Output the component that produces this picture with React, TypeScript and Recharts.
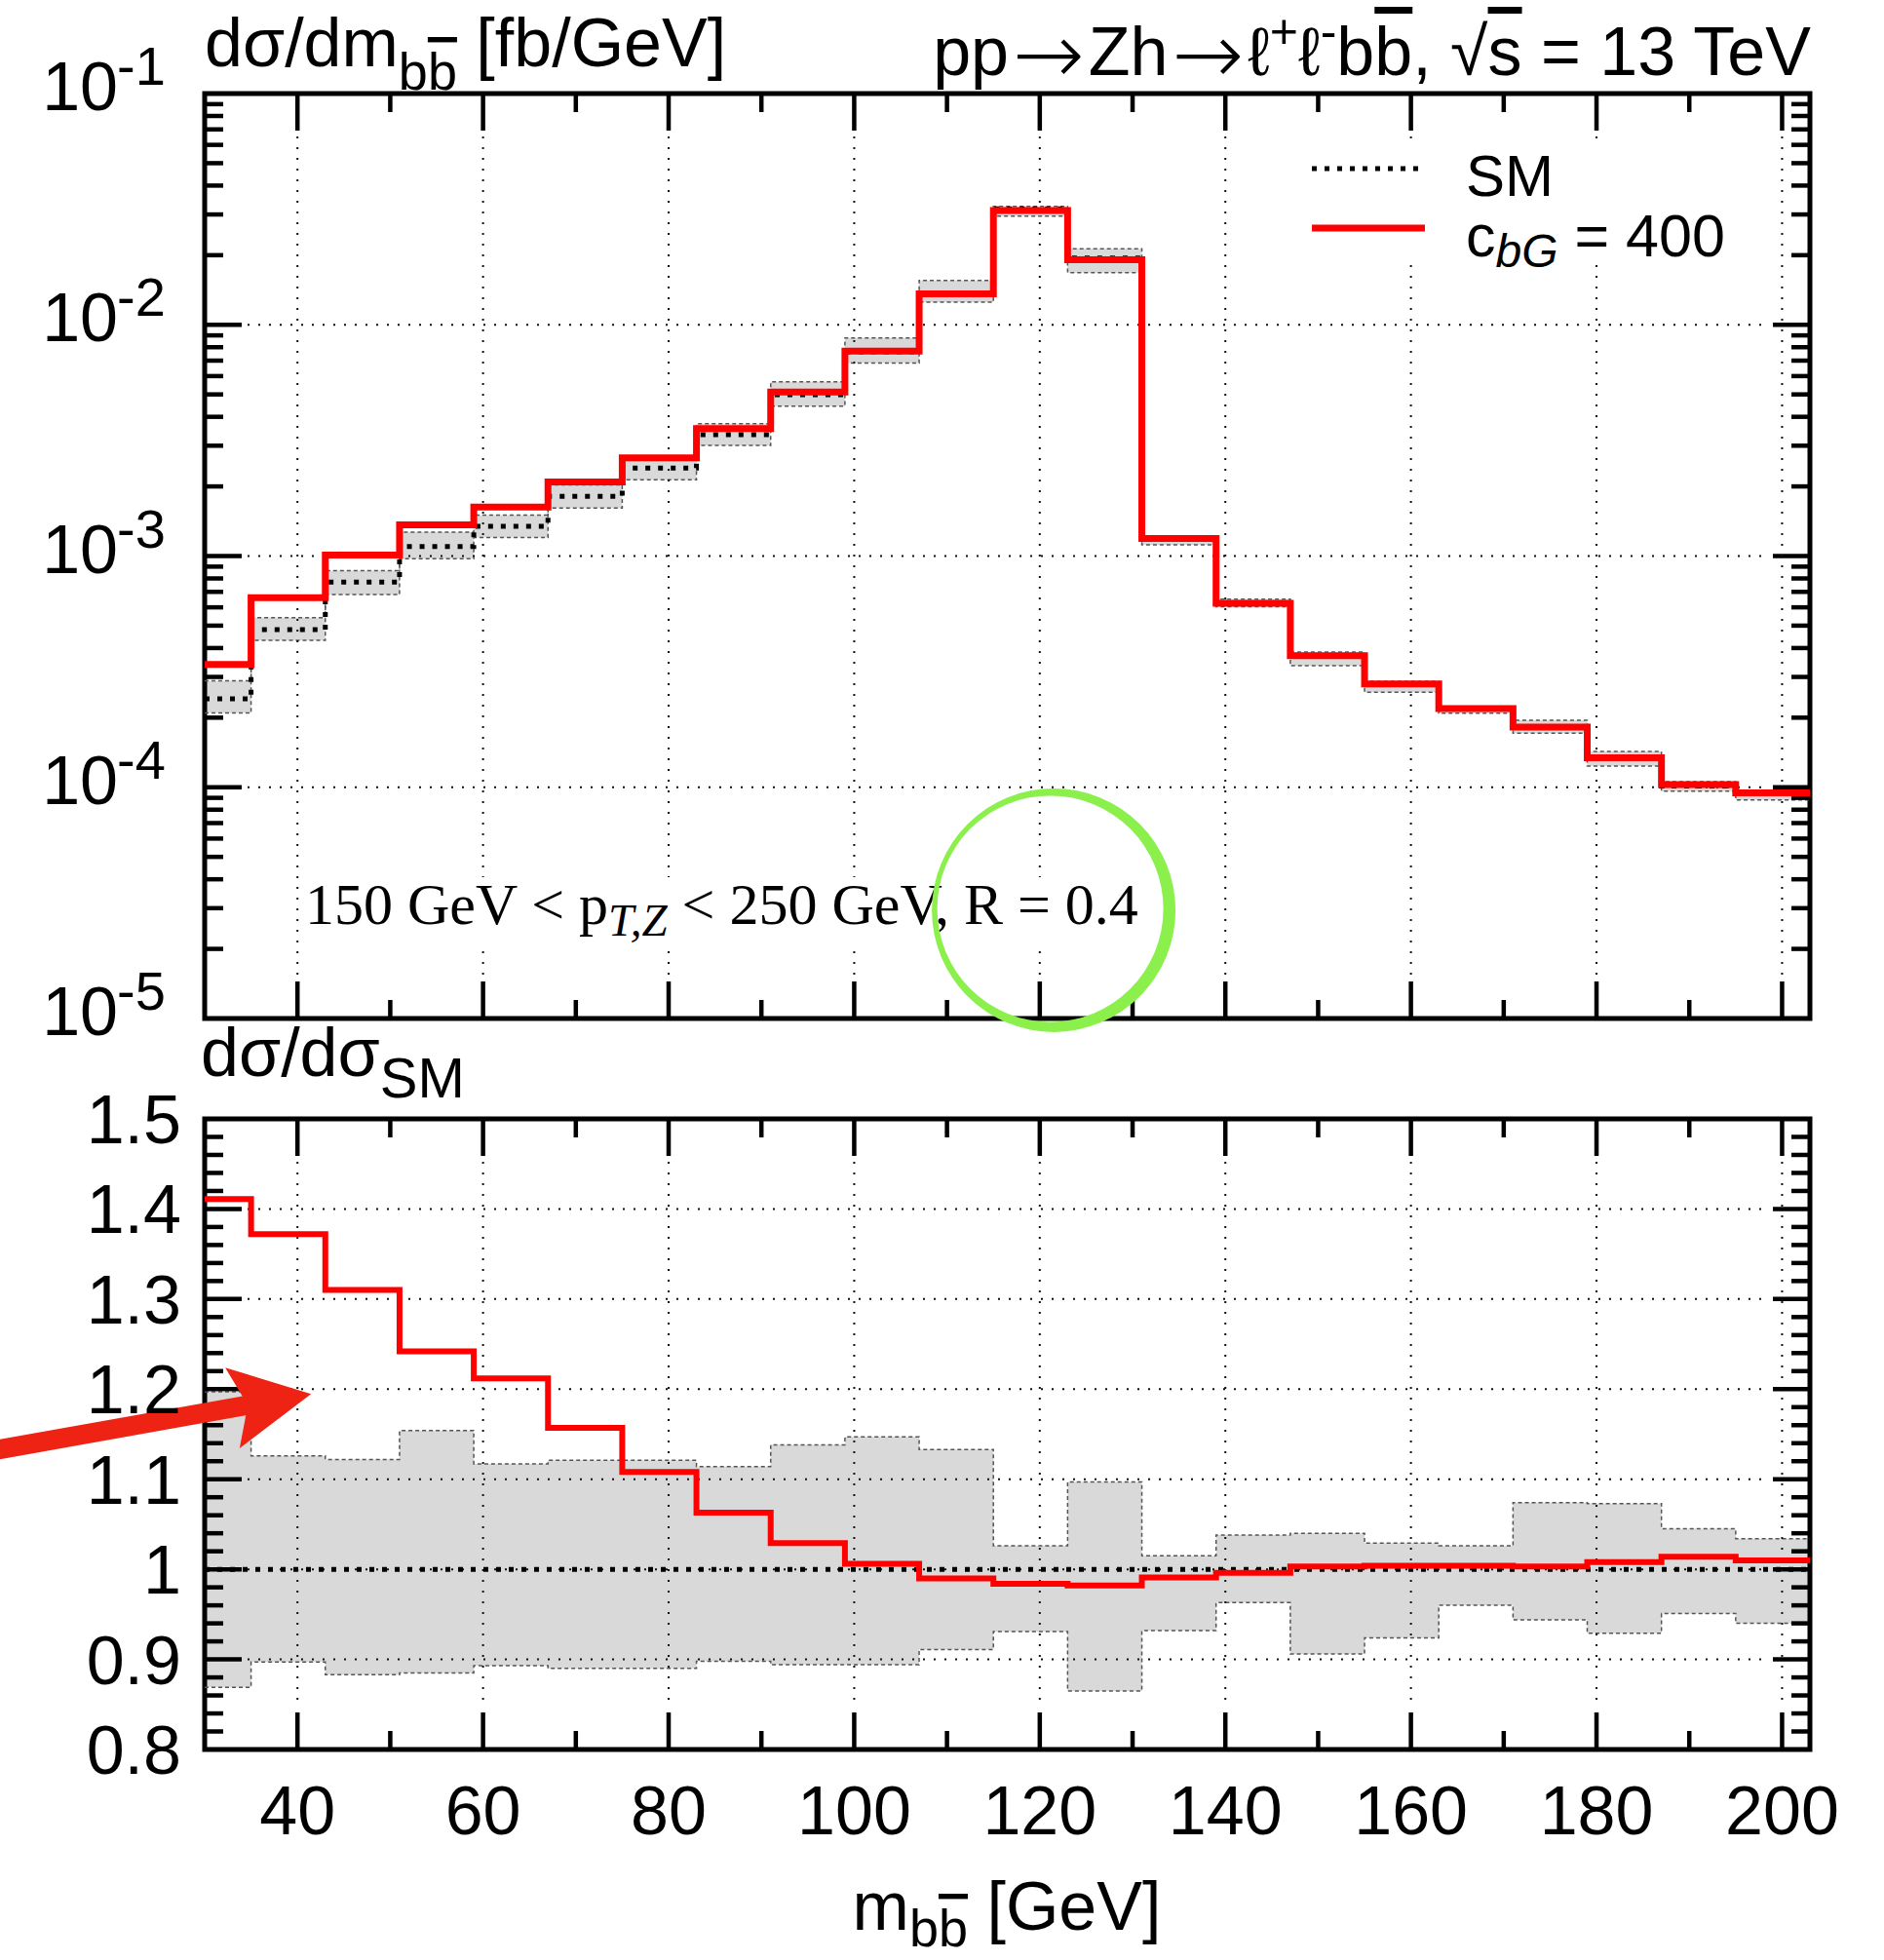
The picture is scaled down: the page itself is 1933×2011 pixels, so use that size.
import React from 'react';
import {
  ComposedChart,
  Line,
  Area,
  XAxis,
  YAxis,
  ReferenceLine,
  ReferenceArea,
  ReferenceDot,
} from 'recharts';

// ---------------- data ----------------
const binLowEdges = [30, 35, 43, 51, 59, 67, 75, 83, 91, 99, 107, 115, 123, 131, 139, 147, 155, 163, 171, 179, 187, 195];
const rangeEnd = 203;

// SM differential cross section [fb/GeV]
const smXsec = [
  2.41e-4, 4.81e-4, 7.71e-4, 1.1e-3, 1.345e-3, 1.81e-3, 2.4e-3, 3.35e-3, 4.98e-3, 7.64e-3, 1.374e-2,
  3.17e-2, 1.945e-2, 1.2e-3, 6.27e-4, 3.7e-4, 2.79e-4, 2.18e-4, 1.815e-4, 1.33e-4, 1.012e-4, 9.37e-5,
];
// c_bG = 400 differential cross section [fb/GeV]
const cbgXsec = [
  3.4e-4, 6.6e-4, 1.01e-3, 1.365e-3, 1.63e-3, 2.09e-3, 2.66e-3, 3.56e-3, 5.12e-3, 7.69e-3, 1.36e-2,
  3.12e-2, 1.91e-2, 1.19e-3, 6.25e-4, 3.71e-4, 2.8e-4, 2.19e-4, 1.82e-4, 1.34e-4, 1.026e-4, 9.46e-5,
];
// ratio dσ/dσ_SM for c_bG = 400
const cbgRatio = [
  1.411, 1.372, 1.31, 1.242, 1.212, 1.157, 1.108, 1.063, 1.029, 1.006, 0.99,
  0.984, 0.982, 0.991, 0.996, 1.003, 1.004, 1.004, 1.003, 1.008, 1.014, 1.01,
];
// SM uncertainty band (relative)
const bandUp = [
  1.197, 1.126, 1.122, 1.154, 1.117, 1.121, 1.121, 1.114, 1.138, 1.147, 1.133,
  1.026, 1.097, 1.015, 1.038, 1.04, 1.029, 1.026, 1.074, 1.073, 1.045, 1.034,
];
const bandDown = [
  0.869, 0.897, 0.883, 0.885, 0.893, 0.89, 0.89, 0.898, 0.894, 0.894, 0.911,
  0.931, 0.865, 0.932, 0.963, 0.906, 0.924, 0.96, 0.944, 0.929, 0.951, 0.94,
];

// axis ticks
const xDomain = [30, 203];
const xMajorTicks = [40, 60, 80, 100, 120, 140, 160, 180, 200];
const xTickLabels = ['40', '60', '80', '100', '120', '140', '160', '180', '200'];
const xMinorTicks = [50, 70, 90, 110, 130, 150, 170, 190];
const logDomain = [1e-5, 1e-1];
const logMajorTicks = [1e-5, 1e-4, 1e-3, 1e-2, 1e-1];
const logExponentLabels = ['-5', '-4', '-3', '-2', '-1'];
const logMinorMultipliers = [2, 3, 4, 5, 6, 7, 8, 9];
const ratioDomain = [0.8, 1.5];
const ratioMajorTicks = [0.8, 0.9, 1.0, 1.1, 1.2, 1.3, 1.4, 1.5];
const ratioTickLabels = ['0.8', '0.9', '1', '1.1', '1.2', '1.3', '1.4', '1.5'];
const ratioMinorTicks = [
  0.82, 0.84, 0.86, 0.88, 0.92, 0.94, 0.96, 0.98, 1.02, 1.04, 1.06, 1.08, 1.12, 1.14, 1.16, 1.18,
  1.22, 1.24, 1.26, 1.28, 1.32, 1.34, 1.36, 1.38, 1.42, 1.44, 1.46, 1.48,
];

const logMinorTicks: number[] = [];
logMajorTicks.slice(0, -1).forEach((d) => logMinorMultipliers.forEach((m) => logMinorTicks.push(m * d)));

const rows = [...binLowEdges, rangeEnd].map((x, idx) => {
  const i = Math.min(idx, smXsec.length - 1);
  return {
    x,
    sm: smXsec[i],
    cbg: cbgXsec[i],
    smBand: [smXsec[i] * bandDown[i], smXsec[i] * bandUp[i]],
    smHi: smXsec[i] * bandUp[i],
    smLo: smXsec[i] * bandDown[i],
    ratio: cbgRatio[i],
    ratioBand: [bandDown[i], bandUp[i]],
    rHi: bandUp[i],
    rLo: bandDown[i],
  };
});

// ---------------- layout ----------------
const W = 1933;
const H = 2011;
const PL = 210;
const PR = 1857;
const TOP_T = 96;
const TOP_B = 1045;
const BOT_T = 1148;
const BOT_B = 1795;

const SANS = '"Liberation Sans", Arimo, Helvetica, Arial, sans-serif';
const SERIF = '"Liberation Serif", "Times New Roman", Times, serif';
const ARROWFONT = '"DejaVu Sans", "Liberation Sans", sans-serif';
const RED = '#ff0000';
const BAND = '#d9d9d9';
const MAJ = 38;
const MIN = 19;

// ---------------- shapes ----------------
const hTick = (len: number, grid: boolean) => (p: any) => {
  const xa = Math.min(p.x1, p.x2);
  const xb = Math.max(p.x1, p.x2);
  const y = p.y1;
  return (
    <g>
      {grid && (
        <line x1={xa + len + 6} x2={xb - len - 6} y1={y} y2={y} stroke="#111" strokeWidth={2} strokeDasharray="2 9" />
      )}
      <line x1={xa} x2={xa + len} y1={y} y2={y} stroke="#000" strokeWidth={4.5} />
      <line x1={xb - len} x2={xb} y1={y} y2={y} stroke="#000" strokeWidth={4.5} />
    </g>
  );
};

const vTick = (len: number, grid: boolean) => (p: any) => {
  const ya = Math.min(p.y1, p.y2);
  const yb = Math.max(p.y1, p.y2);
  const x = p.x1;
  return (
    <g>
      {grid && (
        <line x1={x} x2={x} y1={ya + len + 6} y2={yb - len - 6} stroke="#111" strokeWidth={2} strokeDasharray="2 9" />
      )}
      <line x1={x} x2={x} y1={ya} y2={ya + len} stroke="#000" strokeWidth={4.5} />
      <line x1={x} x2={x} y1={yb - len} y2={yb} stroke="#000" strokeWidth={4.5} />
    </g>
  );
};

const ArrowShape = (p: any) => {
  const { x1, y1, x2, y2 } = p;
  const dx = x2 - x1;
  const dy = y2 - y1;
  const L = Math.hypot(dx, dy);
  const ux = dx / L;
  const uy = dy / L;
  const nx = -uy;
  const ny = ux;
  const back = 82;
  const half = 42;
  const notch = 66;
  const bx = x2 - ux * back;
  const by = y2 - uy * back;
  const nxp = x2 - ux * notch;
  const nyp = y2 - uy * notch;
  const pts = [
    [x2, y2],
    [bx + nx * half, by + ny * half],
    [nxp, nyp],
    [bx - nx * half, by - ny * half],
  ]
    .map((q) => q.join(','))
    .join(' ');
  return (
    <g>
      <line x1={x1} y1={y1} x2={nxp + ux * 4} y2={nyp + uy * 4} stroke="#ee2314" strokeWidth={20} />
      <polygon points={pts} fill="#ee2314" />
    </g>
  );
};

// hand-drawn looking ring: thicker on the right, thinner on the left
const CircleShape = (p: any) => {
  const cx = p.cx;
  const cy = p.cy;
  const ro = 125;
  const ri = 116;
  const ox = -3.5;
  const oy = -1.5;
  const d =
    `M ${cx - ro} ${cy} a ${ro} ${ro} 0 1 0 ${2 * ro} 0 a ${ro} ${ro} 0 1 0 ${-2 * ro} 0 Z ` +
    `M ${cx + ox - ri} ${cy + oy} a ${ri} ${ri} 0 1 0 ${2 * ri} 0 a ${ri} ${ri} 0 1 0 ${-2 * ri} 0 Z`;
  return <path d={d} fill="#8cf04c" fillRule="evenodd" />;
};

// ---------------- ticks ----------------
const LogTick = (p: any) => {
  const idx = logMajorTicks.findIndex((v) => Math.abs(v - p.payload.value) / v < 1e-6);
  const exp = logExponentLabels[idx] ?? '';
  return (
    <g fontFamily={SANS} fill="#000">
      <text x={121} y={p.y + 17} textAnchor="end" fontSize={70}>
        10
      </text>
      <text x={120} y={p.y - 9} textAnchor="start" fontSize={56}>
        {exp}
      </text>
    </g>
  );
};

const RatioTick = (p: any) => {
  const idx = ratioMajorTicks.findIndex((v) => Math.abs(v - p.payload.value) < 1e-6);
  return (
    <text x={186} y={p.y + 25} textAnchor="end" fontSize={70} fontFamily={SANS} fill="#000">
      {ratioTickLabels[idx]}
    </text>
  );
};

const XTick = (p: any) => {
  const idx = xMajorTicks.findIndex((v) => Math.abs(v - p.payload.value) < 1e-6);
  return (
    <text x={p.x} y={1882} textAnchor="middle" fontSize={70} fontFamily={SANS} fill="#000">
      {xTickLabels[idx]}
    </text>
  );
};

const layer: React.CSSProperties = { position: 'absolute', left: 0, top: 0, width: W, height: H };

export default function App() {
  return (
    <div style={{ position: 'absolute', left: 0, top: 0, width: W, height: H, background: '#fff', overflow: 'hidden' }}>
      {/* titles */}
      <svg style={layer} width={W} height={H}>
        <text x={210} y={68} fontSize={70} fontFamily={SANS} fill="#000">
          dσ/dm
          <tspan fontSize={54} dy={24}>b</tspan>
          <tspan fontSize={54} style={{ textDecoration: 'overline' }}>b</tspan>
          <tspan fontSize={70} dy={-24}>
            {' [fb/GeV]'}
          </tspan>
        </text>
        <text x={1858} y={77} fontSize={70} fontFamily={SANS} fill="#000" textAnchor="end">
          pp
          <tspan fontFamily={ARROWFONT} fontWeight={200} fontSize={88} dx={4} dy={9}>→</tspan>
          <tspan dx={4} dy={-9}>Zh</tspan>
          <tspan fontFamily={ARROWFONT} fontWeight={200} fontSize={88} dx={4} dy={9}>→</tspan>
          <tspan dx={4} dy={-9}>ℓ</tspan>
          <tspan fontSize={50} dy={-28}>+</tspan>
          <tspan fontSize={70} dy={28}>ℓ</tspan>
          <tspan fontSize={50} dy={-28}>-</tspan>
          <tspan fontSize={70} dy={28}>b</tspan>
          <tspan style={{ textDecoration: 'overline' }}>b</tspan>
          <tspan>, √</tspan>
          <tspan style={{ textDecoration: 'overline' }}>s</tspan>
          <tspan>{' = 13 TeV'}</tspan>
        </text>
        <text x={206} y={1104} fontSize={70} fontFamily={SANS} fill="#000">
          dσ/dσ
          <tspan fontSize={58} dy={22}>
            SM
          </tspan>
        </text>
        <text x={1033} y={1980} fontSize={70} fontFamily={SANS} fill="#000" textAnchor="middle">
          m
          <tspan fontSize={54} dy={17}>b</tspan>
          <tspan fontSize={54} style={{ textDecoration: 'overline' }}>b</tspan>
          <tspan fontSize={70} dy={-17}>
            {' [GeV]'}
          </tspan>
        </text>
      </svg>

      {/* upper panel */}
      <div style={layer}>
        <ComposedChart width={W} height={H} data={rows} margin={{ top: TOP_T, right: W - PR, bottom: H - TOP_B, left: PL - 100 }}>
          <XAxis type="number" dataKey="x" domain={xDomain} ticks={xMajorTicks} hide allowDataOverflow />
          <YAxis
            type="number"
            scale="log"
            domain={logDomain}
            ticks={logMajorTicks}
            width={100}
            allowDataOverflow
            interval={0}
            tickLine={false}
            axisLine={false}
            tickSize={0}
            tick={<LogTick />}
          />
          <Area dataKey="smBand" type="stepAfter" fill={BAND} fillOpacity={1} stroke="none" isAnimationActive={false} />
          <Line dataKey="smHi" type="stepAfter" stroke="#555" strokeWidth={1.5} strokeDasharray="4 3" dot={false} isAnimationActive={false} />
          <Line dataKey="smLo" type="stepAfter" stroke="#555" strokeWidth={1.5} strokeDasharray="4 3" dot={false} isAnimationActive={false} />
          {logMajorTicks.slice(1, -1).map((v) => (
            <ReferenceLine key={'ly' + v} y={v} shape={hTick(MAJ, true)} />
          ))}
          {logMinorTicks.map((v) => (
            <ReferenceLine key={'lmy' + v} y={v} shape={hTick(MIN, false)} />
          ))}
          {xMajorTicks.map((v) => (
            <ReferenceLine key={'tx' + v} x={v} shape={vTick(MAJ, true)} />
          ))}
          {xMinorTicks.map((v) => (
            <ReferenceLine key={'tmx' + v} x={v} shape={vTick(MIN, false)} />
          ))}
          <Line dataKey="sm" type="stepAfter" stroke="#000" strokeWidth={5} strokeDasharray="5 8" dot={false} isAnimationActive={false} />
          <Line dataKey="cbg" type="stepAfter" stroke={RED} strokeWidth={7} dot={false} isAnimationActive={false} />
          <ReferenceArea x1={xDomain[0]} x2={xDomain[1]} y1={logDomain[0]} y2={logDomain[1]} fill="none" fillOpacity={0} stroke="#000" strokeWidth={5} />
        </ComposedChart>
      </div>

      {/* lower panel */}
      <div style={layer}>
        <ComposedChart width={W} height={H} data={rows} margin={{ top: BOT_T, right: W - PR, bottom: H - BOT_B - 100, left: PL - 100 }}>
          <XAxis
            type="number"
            dataKey="x"
            domain={xDomain}
            ticks={xMajorTicks}
            height={100}
            allowDataOverflow
            interval={0}
            tickLine={false}
            axisLine={false}
            tickSize={0}
            tick={<XTick />}
          />
          <YAxis
            type="number"
            domain={ratioDomain}
            ticks={ratioMajorTicks}
            width={100}
            allowDataOverflow
            interval={0}
            tickLine={false}
            axisLine={false}
            tickSize={0}
            tick={<RatioTick />}
          />
          <Area dataKey="ratioBand" type="stepAfter" fill={BAND} fillOpacity={1} stroke="none" isAnimationActive={false} />
          <Line dataKey="rHi" type="stepAfter" stroke="#555" strokeWidth={1.5} strokeDasharray="4 3" dot={false} isAnimationActive={false} />
          <Line dataKey="rLo" type="stepAfter" stroke="#555" strokeWidth={1.5} strokeDasharray="4 3" dot={false} isAnimationActive={false} />
          {ratioMajorTicks.slice(1, -1).map((v) => (
            <ReferenceLine key={'ry' + v} y={v} shape={hTick(MAJ, true)} />
          ))}
          {ratioMinorTicks.map((v) => (
            <ReferenceLine key={'rmy' + v} y={v} shape={hTick(MIN, false)} />
          ))}
          {xMajorTicks.map((v) => (
            <ReferenceLine key={'bx' + v} x={v} shape={vTick(MAJ, true)} />
          ))}
          {xMinorTicks.map((v) => (
            <ReferenceLine key={'bmx' + v} x={v} shape={vTick(MIN, false)} />
          ))}
          <ReferenceLine y={1} stroke="#000" strokeWidth={5} strokeDasharray="5 8" />
          <Line dataKey="ratio" type="stepAfter" stroke={RED} strokeWidth={6} dot={false} isAnimationActive={false} />
          <ReferenceArea x1={xDomain[0]} x2={xDomain[1]} y1={ratioDomain[0]} y2={ratioDomain[1]} fill="none" fillOpacity={0} stroke="#000" strokeWidth={5} />
          <ReferenceLine
            segment={[
              { x: 7.5, y: 1.1324 },
              { x: 41.47, y: 1.1947 },
            ]}
            ifOverflow="visible"
            shape={ArrowShape}
          />
        </ComposedChart>
      </div>

      {/* legend + annotation with opaque boxes */}
      <svg style={layer} width={W} height={H}>
        <rect x={1330} y={145} width={430} height={120} fill="#fff" />
        <line x1={1346} x2={1462} y1={173} y2={173} stroke="#000" strokeWidth={5} strokeDasharray="5 8" />
        <line x1={1346} x2={1462} y1={234} y2={234} stroke={RED} strokeWidth={7} />
        <text x={1504} y={201} fontSize={60} fontFamily={SANS} fill="#000">
          SM
        </text>
        <text x={1504} y={263} fontSize={61} fontFamily={SANS} fill="#000">
          c
          <tspan fontSize={48} dy={11} fontStyle="italic">
            bG
          </tspan>
          <tspan fontSize={61} dy={-11}>
            {' = 400'}
          </tspan>
        </text>
        <rect x={310} y={900} width={868} height={68} fill="#fff" />
        <text x={313} y={948} fontSize={60} fontFamily={SERIF} fill="#000">
          150 GeV {'<'} p
          <tspan fontSize={47} dy={12} fontStyle="italic">
            T,Z
          </tspan>
          <tspan fontSize={60} dy={-12}>
            {' < 250 GeV, R = 0.4'}
          </tspan>
        </text>
      </svg>

      {/* hand-drawn circle annotation */}
      <div style={layer}>
        <ComposedChart width={W} height={H} data={rows} margin={{ top: TOP_T, right: W - PR, bottom: H - TOP_B, left: PL }}>
          <XAxis type="number" dataKey="x" domain={xDomain} hide allowDataOverflow />
          <YAxis type="number" scale="log" domain={logDomain} hide allowDataOverflow />
          <ReferenceDot x={121.5} y={2.94e-5} r={120} ifOverflow="visible" shape={CircleShape} />
        </ComposedChart>
      </div>
    </div>
  );
}
